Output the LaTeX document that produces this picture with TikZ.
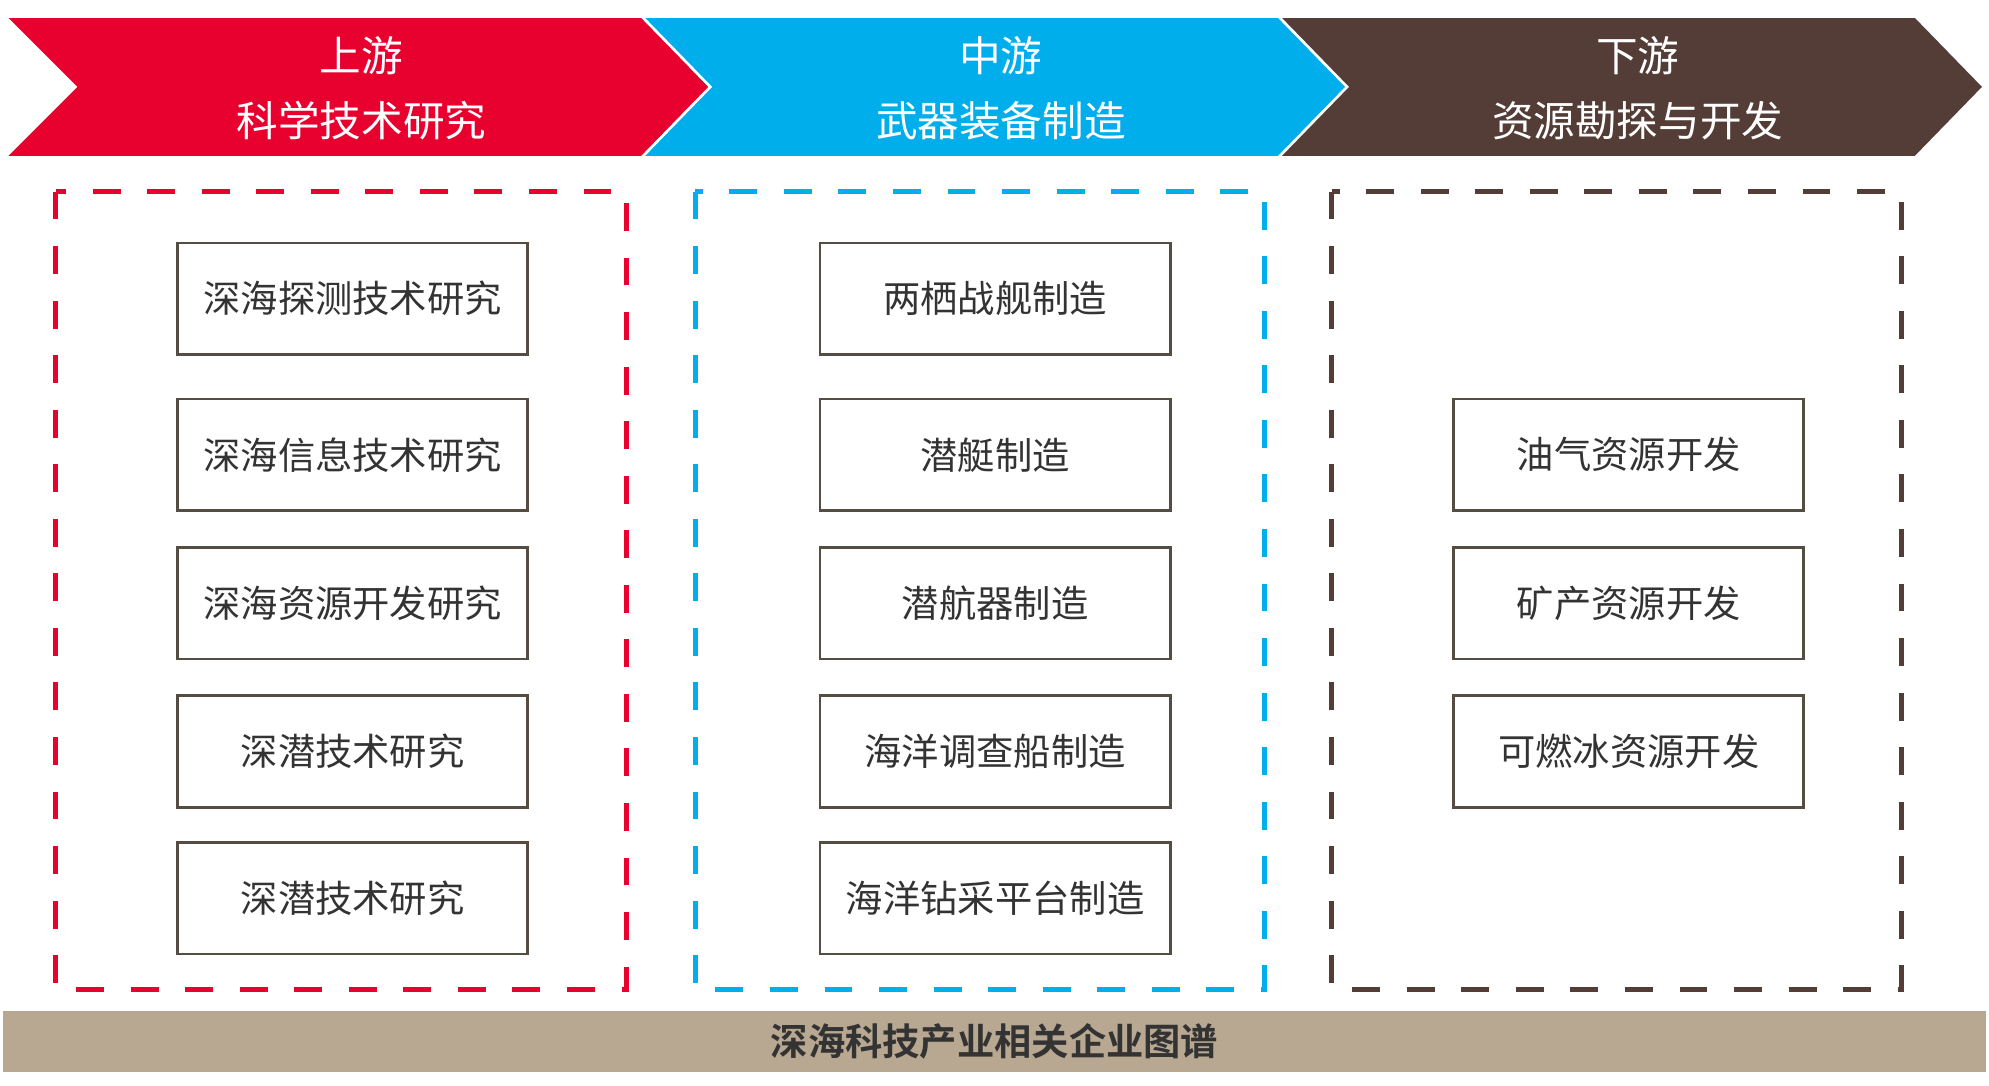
\documentclass[tikz,border=0pt]{standalone}
\usepackage{fontspec}
\newfontfamily\cjk{Noto Sans CJK SC}[BoldFont={Noto Sans CJK SC Bold}]
\definecolor{upred}{HTML}{E8002F}
\definecolor{midblue}{HTML}{00AEEB}
\definecolor{downbrown}{HTML}{533D36}
\definecolor{boxline}{HTML}{554C42}
\definecolor{txt}{HTML}{333333}
\definecolor{barfill}{HTML}{B9A891}
\begin{document}
\begin{tikzpicture}[x=0.5pt,y=-0.5pt,
  headtxt/.style={text=white,font=\cjk\fontsize{16.4pt}{25.5pt}\selectfont,align=center,inner sep=0pt},
  itembox/.style={draw=boxline,line width=1.1pt,fill=white,minimum width=138pt,minimum height=44pt,inner sep=0pt,
    text=txt,font=\cjk\fontsize{14.7pt}{17pt}\selectfont},
  groupbox/.style={line width=2pt,dash pattern=on 11pt off 10.5pt},
  chev/.style={draw=white,line width=1pt}]
\useasboundingbox (0,0) rectangle (1568,856);
\fill[white] (0,0) rectangle (1568,856);
% chevrons
\filldraw[chev,fill=upred] (4,13) -- (506,13) -- (560,68.5) -- (506,124) -- (4,124) -- (59.5,68.5) -- cycle;
\filldraw[chev,fill=midblue] (506,13) -- (1008,13) -- (1062,68.5) -- (1008,124) -- (506,124) -- (560,68.5) -- cycle;
\filldraw[chev,fill=downbrown] (1008,13) -- (1510,13) -- (1564,68.5) -- (1510,124) -- (1008,124) -- (1062,68.5) -- cycle;
\node[headtxt] (h1) at (285,69.5) {上游\\科学技术研究};
\node[headtxt] (h2) at (789,69.5) {中游\\武器装备制造};
\node[headtxt] (h3) at (1291,69.5) {下游\\资源勘探与开发};
% dashed group boxes
\draw[groupbox,draw=upred] (44,151) rectangle (494,780);
\draw[groupbox,draw=midblue] (548,151) rectangle (997,780);
\draw[groupbox,draw=downbrown] (1050,151) rectangle (1499,780);
% left column
\node[itembox] (l1) at (278,235.5) {深海探测技术研究};
\node[itembox] (l2) at (278,358.5) {深海信息技术研究};
\node[itembox] (l3) at (278,475.5) {深海资源开发研究};
\node[itembox] (l4) at (278,592.5) {深潜技术研究};
\node[itembox] (l5) at (278,708) {深潜技术研究};
% middle column
\node[itembox] (m1) at (784.5,235.5) {两栖战舰制造};
\node[itembox] (m2) at (784.5,358.5) {潜艇制造};
\node[itembox] (m3) at (784.5,475.5) {潜航器制造};
\node[itembox] (m4) at (784.5,592.5) {海洋调查船制造};
\node[itembox] (m5) at (784.5,708) {海洋钻采平台制造};
% right column
\node[itembox] (r1) at (1284,358.5) {油气资源开发};
\node[itembox] (r2) at (1284,475.5) {矿产资源开发};
\node[itembox] (r3) at (1284,592.5) {可燃冰资源开发};
% bottom bar
\fill[barfill] (2,797) rectangle (1566,845);
\node[text=txt,font=\cjk\bfseries\fontsize{14.7pt}{17pt}\selectfont,inner sep=0pt] (bar) at (784,821) {深海科技产业相关企业图谱};
\end{tikzpicture}
\end{document}
